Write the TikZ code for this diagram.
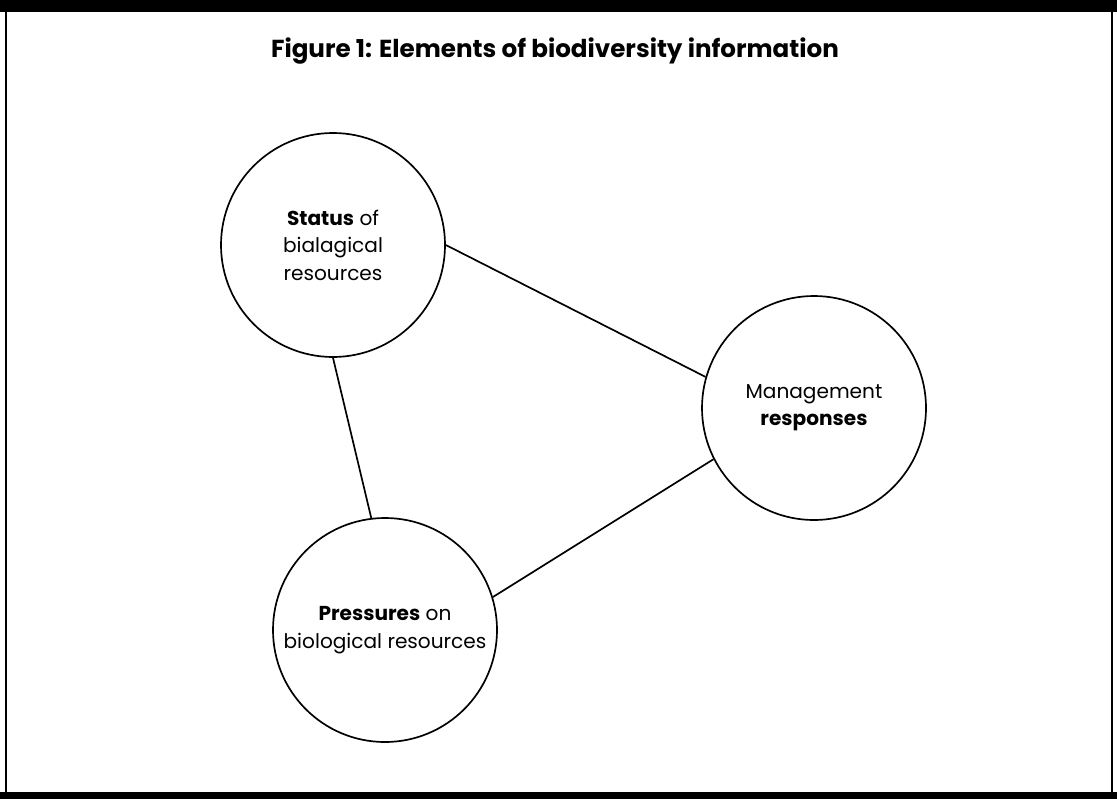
\documentclass[tikz,border=0pt]{standalone}
\usepackage{fontspec}
\setmainfont{Poppins}
\usetikzlibrary{positioning}
\tikzset{
	node distance=12cm,
	auto,
	kreis/.style={
		circle,
		draw=black,
		line width=1.2pt,
		minimum size=5.6cm,
		inner sep=0pt,
		align=center,
		font=\fontsize{14.3}{19.5}\selectfont
	},
	titel/.style={
		font=\fontsize{17.5}{21}\selectfont\bfseries
	}
}

\begin{document}
\begin{tikzpicture}[line width=1.2pt]
		\useasboundingbox (0,0) rectangle (27.925,-19.975);

		% frame of the scanned page
		\fill[black] (0,0) rectangle (27.925,-0.3);
		\fill[black] (0,-19.8) rectangle (27.925,-19.975);
		\draw[line width=1.4pt] (0.15,-0.3) -- (0.15,-19.8);
		\draw[line width=1.4pt] (27.8,-0.3) -- (27.8,-19.8);

		\node [titel, anchor=base] (titel) at (13.875,-1.425) {Figure 1: Elements of biodiversity information};

		\node [kreis] (status) at (8.325,-6.125) {\textbf{Status} of\\bialagical\\resources};
		\node [kreis, right of=status, node distance=12.025cm, yshift=-4.075cm] (management) {Management\\\textbf{responses}};
		\node [kreis, below of=status, node distance=9.625cm, xshift=1.3cm] (pressures) {\textbf{Pressures} on\\biological resources};

		\draw (status.east) -- (management.164);
		\draw (status.south) -- (pressures.97);
		\draw (pressures.17) -- (management.207);
	\end{tikzpicture}
\end{document}
